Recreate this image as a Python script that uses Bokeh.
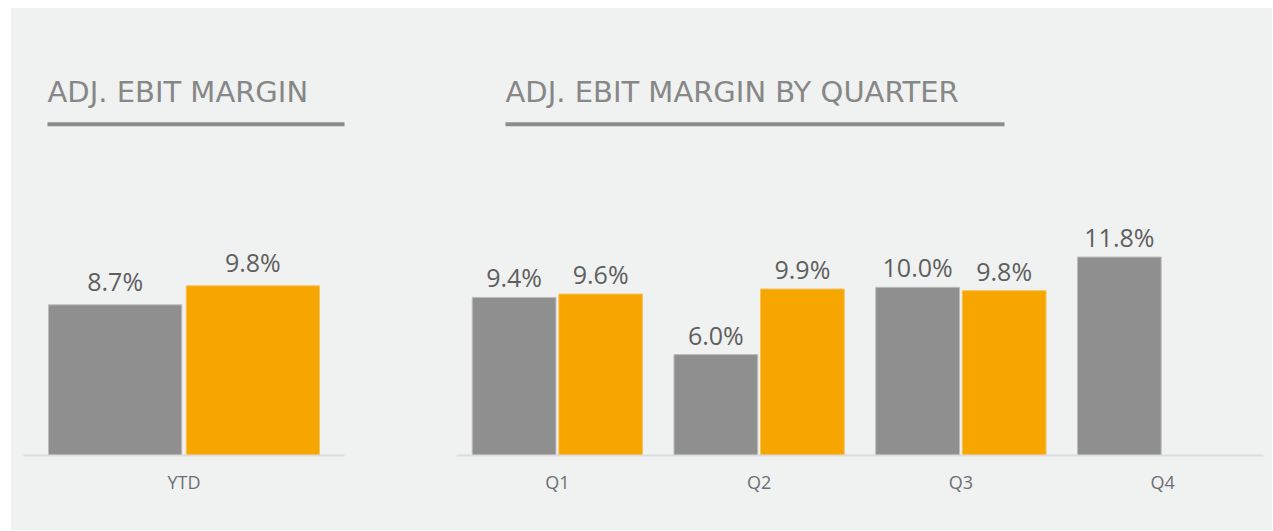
from bokeh.plotting import figure
from bokeh.models import ColumnDataSource, FactorRange, Label, BoxAnnotation, Spacer
from bokeh.layouts import row, column
from bokeh.transform import dodge
from bokeh.core.properties import value
from bokeh.embed import file_html
from bokeh.resources import INLINE

# ---- data ----
ytd_categories = ["YTD"]
ytd_prev = [8.7]
ytd_curr = [9.8]

quarters = ["Q1", "Q2", "Q3", "Q4"]
q_prev = [9.4, 6.0, 10.0, 11.8]
q_curr = [9.6, 9.9, 9.8, None]

left_title = "ADJ. EBIT MARGIN"
right_title = "ADJ. EBIT MARGIN BY QUARTER"

# ---- style ----
BG = "#f0f1f1"
GRAY = "#8f8f8f"
ORANGE = "#f7a600"
LABEL_COLOR = "#5f5f5f"
TITLE_COLOR = "#878787"
AXIS_TEXT = "#6d6f75"
FONT = "Open Sans"
TITLE_FONT = "DejaVu Sans"
H = 522
BAR_W = 0.415
DODGE = 0.2145


def make_source(cats, vals):
    xs, vs, ls = [], [], []
    for c, v in zip(cats, vals):
        if v is None:
            continue
        xs.append(c)
        vs.append(v)
        ls.append(f"{v:.1f}%")
    return ColumnDataSource(dict(x=xs, v=vs, label=ls))


def make_chart(cats, prev, curr, width, bl, br, ymax, title, title_x, line_right, lab_off):
    p = figure(
        x_range=FactorRange(factors=cats, range_padding=0),
        y_range=(0, ymax),
        width=width, height=H,
        min_border_left=bl, min_border_right=br,
        min_border_top=0, min_border_bottom=H - 447,
        output_backend="svg", toolbar_location=None,
        y_axis_location=None,
    )
    p.background_fill_color = BG
    p.border_fill_color = BG
    p.outline_line_color = None
    p.xgrid.grid_line_color = None
    p.ygrid.grid_line_color = None

    for vals, off, col, lc in ((prev, -DODGE, GRAY, "#bdbdbd"), (curr, DODGE, ORANGE, "#f8c25c")):
        src = make_source(cats, vals)
        xd = dodge("x", off, range=p.x_range)
        p.vbar(x=xd, top="v", width=BAR_W, source=src, fill_color=col,
               line_color=lc, line_width=1)
        p.text(x=xd, y="v", text="label", source=src, text_align="center",
               text_baseline="alphabetic", y_offset=lab_off,
               text_font=value(FONT), text_font_size="25px", text_color=LABEL_COLOR)

    ax = p.xaxis[0]
    ax.axis_line_color = "#dcdcdc"
    ax.axis_line_width = 2
    ax.major_tick_line_color = None
    ax.minor_tick_line_color = None
    ax.major_label_standoff = 8
    ax.major_label_text_font = FONT
    ax.major_label_text_font_size = "18px"
    ax.major_label_text_color = AXIS_TEXT

    p.add_layout(Label(x=title_x, y=364, x_units="screen", y_units="screen",
                       text=title, text_font=TITLE_FONT, text_font_size="29px",
                       text_color=TITLE_COLOR, text_baseline="alphabetic"))
    p.add_layout(BoxAnnotation(left=title_x, right=line_right, bottom=329.3, top=333.3,
                               left_units="screen", right_units="screen",
                               bottom_units="screen", top_units="screen",
                               fill_color="#8c8c8c", fill_alpha=1, line_color=None))
    return p


p1 = make_chart(ytd_categories, ytd_prev, ytd_curr, 439, 12, 106, 25.81,
                left_title, 24, 326, -24)
p2 = make_chart(quarters, q_prev, q_curr, 822, 6, 9, 26.58,
                right_title, 49, 548, -20)

charts = row(p1, p2, styles={"background-color": BG})
layout = column(Spacer(width=10, height=8), row(Spacer(width=11, height=H), charts))
open("out.html", "w").write(file_html(layout, INLINE))
